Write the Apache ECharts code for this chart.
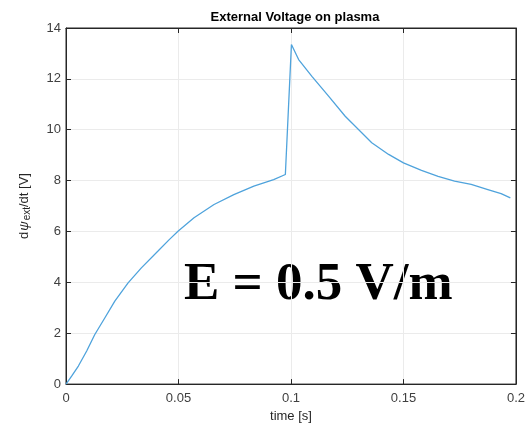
<!DOCTYPE html>
<html>
<head>
<meta charset="utf-8">
<script src="https://cdn.jsdelivr.net/npm/echarts@6/dist/echarts.min.js"></script>
<style>html,body{margin:0;padding:0;background:#fff}#c{width:528px;height:428px}</style>
</head>
<body>
<div id="c"></div>
<script>
var times = [0, 0.0025, 0.0055, 0.0092, 0.0128, 0.0173, 0.0217, 0.0276, 0.0335, 0.0409, 0.046, 0.0499, 0.0569, 0.0658, 0.0746, 0.0835, 0.0923, 0.0975,
             0.1002, 0.1034, 0.1093, 0.1167, 0.1241, 0.13, 0.1359, 0.1434, 0.15, 0.158, 0.1654, 0.1727, 0.1801, 0.1875, 0.1934, 0.1975];
var voltage = [0, 0.31, 0.71, 1.30, 1.95, 2.61, 3.26, 3.98, 4.57, 5.23, 5.69, 6.02, 6.54, 7.06, 7.45, 7.78, 8.04, 8.24,
               13.35, 12.76, 12.10, 11.32, 10.53, 10.01, 9.49, 9.03, 8.70, 8.40, 8.17, 7.98, 7.85, 7.65, 7.49, 7.32];
var xTicks = ['0', '0.05', '0.1', '0.15', '0.2'];
var yTicks = ['0', '2', '4', '6', '8', '10', '12', '14'];
var titleText = 'External Voltage on plasma';
var xName = 'time [s]';
var annotation = 'E = 0.5 V/m';

var pts = times.map(function (t, i) { return [t, voltage[i]]; });
var axisColor = '#262626';
var font = 'Liberation Sans, Arial, sans-serif';

var chart = echarts.init(document.getElementById('c'), null, {renderer: 'canvas'});
chart.setOption({
  animation: false,
  backgroundColor: '#fff',
  title: {
    text: titleText, left: 290, top: 6, textAlign: 'center',
    textStyle: {fontFamily: font, fontSize: 13, fontWeight: 'bold', color: '#000'}
  },
  grid: {left: 66, right: 10, top: 28, bottom: 43, show: true, borderColor: axisColor, borderWidth: 1},
  xAxis: [{
    type: 'value', min: 0, max: 0.2, interval: 0.05, position: 'bottom',
    name: xName, nameLocation: 'middle', nameGap: 24,
    nameTextStyle: {fontFamily: font, fontSize: 13, color: axisColor},
    axisLine: {show: true, lineStyle: {color: axisColor}},
    axisTick: {show: true, inside: true, length: 5, lineStyle: {color: axisColor}},
    axisLabel: {fontFamily: font, fontSize: 13, color: '#404040', margin: 8,
      formatter: function (v) { return xTicks[Math.round(v / 0.05)]; }},
    splitLine: {show: true, lineStyle: {color: '#ebebeb'}}
  }, {
    type: 'value', min: 0, max: 0.2, interval: 0.05, position: 'top',
    axisLine: {show: true, onZero: false, lineStyle: {color: axisColor}},
    axisTick: {show: true, inside: true, length: 5, lineStyle: {color: axisColor}},
    axisLabel: {show: false}, splitLine: {show: false}
  }],
  yAxis: [{
    type: 'value', min: 0, max: 14, interval: 2, position: 'left',
    name: '{n|d}{p|ψ}{s|ext}{n|/dt [V]}', nameLocation: 'middle', nameGap: 34, nameRotate: 90,
    nameTextStyle: {
      fontFamily: font, fontSize: 13, color: axisColor,
      rich: {
        n: {fontFamily: font, fontSize: 13, color: axisColor, lineHeight: 16, verticalAlign: 'middle'},
        p: {fontFamily: font, fontSize: 13, fontStyle: 'italic', color: axisColor, lineHeight: 16, verticalAlign: 'middle', padding: [0, 1, 0, 1]},
        s: {fontFamily: font, fontSize: 10, color: axisColor, lineHeight: 16, verticalAlign: 'bottom'}
      }
    },
    axisLine: {show: true, lineStyle: {color: axisColor}},
    axisTick: {show: true, inside: true, length: 5, lineStyle: {color: axisColor}},
    axisLabel: {fontFamily: font, fontSize: 13, color: '#404040', margin: 5,
      formatter: function (v) { return yTicks[Math.round(v / 2)]; }},
    splitLine: {show: true, lineStyle: {color: '#ebebeb'}}
  }, {
    type: 'value', min: 0, max: 14, interval: 2, position: 'right',
    axisLine: {show: true, onZero: false, lineStyle: {color: axisColor}},
    axisTick: {show: true, inside: true, length: 5, lineStyle: {color: axisColor}},
    axisLabel: {show: false}, splitLine: {show: false}
  }],
  series: [{
    type: 'line', data: pts, xAxisIndex: 0, yAxisIndex: 0,
    showSymbol: false, symbol: 'none', smooth: false,
    lineStyle: {color: '#4fa3dc', width: 1.3}
  }],
  graphic: [{
    type: 'text', left: 184, top: 259,
    style: {text: annotation, fontFamily: 'Liberation Serif, Times New Roman, serif', fontSize: 53, fontWeight: 'bold', fill: '#000'}
  }]
});
</script>
</body>
</html>
